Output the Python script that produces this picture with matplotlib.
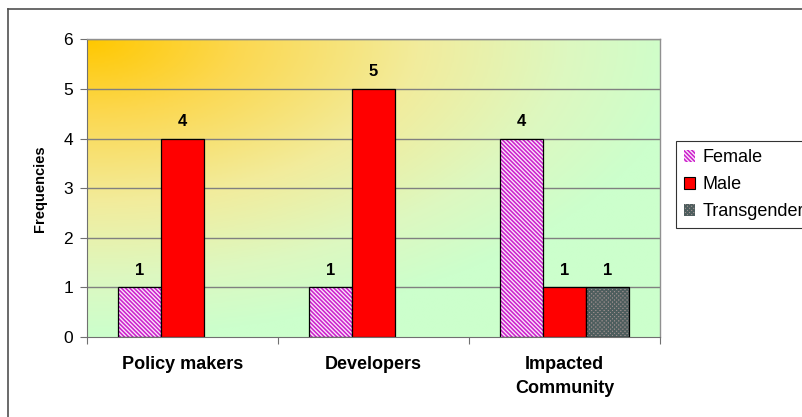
import numpy as np
import matplotlib
matplotlib.use("Agg")
import matplotlib.pyplot as plt
from matplotlib.colors import LinearSegmentedColormap
from matplotlib.patches import Patch
from matplotlib.lines import Line2D

plt.rcParams['font.family'] = ['Liberation Sans', 'DejaVu Sans']

categories = ["Policy makers", "Developers", "Impacted\nCommunity"]
series_names = ["Female", "Male", "Transgender"]
female = [1, 1, 4]
male = [4, 5, 1]
transgender = [0, 0, 1]
y_ticks = [0, 1, 2, 3, 4, 5, 6]

fig = plt.figure(figsize=(8.03, 4.17), dpi=100)
ax = fig.add_axes([0.1083, 0.1918, 0.7136, 0.7135])

# corner gradient backdrop (orange top-left to pale green)
grad_cmap = LinearSegmentedColormap.from_list(
    "bg", [(0.0, "#FFC800"), (0.25, "#FCD850"), (0.55, "#F2EC9C"), (0.8, "#DDF8C0"),
           (1.0, "#CCFFCC")])
nx, ny = 400, 220
u = np.linspace(0, 1, nx)[None, :]
v = np.linspace(0, 1, ny)[:, None]
d = np.clip(np.sqrt((u / 1.05) ** 2 + (v / 1.0) ** 2), 0, 1)
ax.imshow(d, cmap=grad_cmap, vmin=0, vmax=1, aspect='auto',
          extent=[-0.5, 2.5, 0, 6], origin='upper', zorder=0, interpolation='bilinear')
ax.set_xlim(-0.5, 2.5)
ax.set_ylim(0, 6)

# gridlines
for yv in y_ticks[1:]:
    ax.axhline(yv, color='#808080', lw=1.0, zorder=1)

x = np.arange(len(categories))
w = 0.224
offsets = [-w, 0, w]
stripe = '\\' * 8
checker = 'x' * 8

def hatched_bars(xpos, vals, face, hcolor, hatch):
    ax.bar(xpos, vals, w, color=face, edgecolor=hcolor, hatch=hatch, lw=0, zorder=2)
    outline = ax.bar(xpos, vals, w, fill=False, edgecolor='black', lw=0.9, zorder=3)
    for rect, val in zip(outline, vals):
        rect.set_visible(val > 0)

plt.rcParams['hatch.linewidth'] = 1.15
hatched_bars(x + offsets[0], female, '#FBE6FB', '#CC22CC', stripe)
ax.bar(x + offsets[1], male, w, color='#FF0000', edgecolor='black', lw=0.9, zorder=3)
hatched_bars(x + offsets[2], transgender, '#A09090', '#4E5E5E', checker)

# value labels
for xs, vals in zip(offsets, [female, male, transgender]):
    for xi, val in zip(x, vals):
        if val > 0:
            ax.annotate(str(val), (xi + xs, val), xytext=(0, 7), textcoords='offset points',
                        ha='center', va='bottom', fontsize=12, fontweight='bold', zorder=4)

# axes styling
for s in ['top', 'right']:
    ax.spines[s].set_color('#909090')
    ax.spines[s].set_linewidth(1.0)
ax.spines['left'].set_color('#707070')
ax.spines['bottom'].set_color('#707070')
ax.spines['bottom'].set_zorder(4)
ax.set_yticks(y_ticks)
ax.set_yticklabels([str(t) for t in y_ticks], fontsize=12.5)
ax.tick_params(axis='y', length=5, color='#707070', pad=5)
ax.set_xticks([-0.5, 0.5, 1.5, 2.5])
ax.set_xticklabels([])
ax.tick_params(axis='x', length=5, color='#707070')
for xi, lab in zip(x, categories):
    ax.text(xi, -0.38, lab, ha='center', va='top', fontsize=13, fontweight='bold',
            linespacing=1.55, transform=ax.transData, clip_on=False)
ax.set_ylabel("Frequencies", fontsize=10.5, fontweight='bold', labelpad=12)

# legend
handles = [Patch(facecolor='#FBE6FB', edgecolor='#CC22CC', hatch=stripe, lw=0),
           Patch(facecolor='#FF0000', edgecolor='black', lw=0.8),
           Patch(facecolor='#A09090', edgecolor='#4E5E5E', hatch=checker, lw=0)]
leg = fig.legend(handles, series_names, loc='upper left', bbox_to_anchor=(0.842, 0.661),
                 fontsize=13, frameon=True, fancybox=False, edgecolor='black',
                 handlelength=0.6, handleheight=0.6, handletextpad=0.4,
                 labelspacing=0.55, borderpad=0.45, borderaxespad=0)
leg.get_frame().set_linewidth(0.8)

# outer chart frame
fig.add_artist(Line2D([8 / 803, 8 / 803], [0, 1 - 9 / 417], transform=fig.transFigure,
                      color='#505050', lw=1.2))
fig.add_artist(Line2D([8 / 803, 1], [1 - 9 / 417, 1 - 9 / 417], transform=fig.transFigure,
                      color='#505050', lw=1.2))

fig.savefig("out.png", dpi=100)
